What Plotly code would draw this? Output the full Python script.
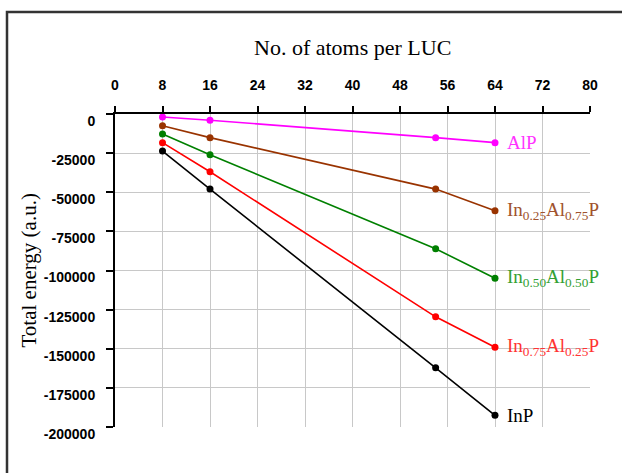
import plotly.graph_objects as go

atoms = [8, 16, 54, 64]
series_names = ["AlP", "In0.25Al0.75P", "In0.50Al0.50P", "In0.75Al0.25P", "InP"]
series_labels = ["AlP",
                 "In<sub>0.25</sub>Al<sub>0.75</sub>P",
                 "In<sub>0.50</sub>Al<sub>0.50</sub>P",
                 "In<sub>0.75</sub>Al<sub>0.25</sub>P",
                 "InP"]
alp = [-1900, -4000, -15100, -18300]
in25 = [-7500, -15100, -48000, -61800]
in50 = [-12800, -26000, -86100, -105000]
in75 = [-18300, -36900, -129600, -149000]
inp = [-23700, -48000, -162200, -192500]
values = [alp, in25, in50, in75, inp]

line_colors = ["#ff00ff", "#993300", "#008000", "#ff0000", "#000000"]
text_colors = ["#ff33ff", "#a0522d", "#33a033", "#ff3333", "#000000"]

x_ticks = [0, 8, 16, 24, 32, 40, 48, 56, 64, 72, 80]
y_ticks = [0, -25000, -50000, -75000, -100000, -125000, -150000, -175000, -200000]

fig = go.Figure()
for name, vals, lc in zip(series_names, values, line_colors):
    fig.add_trace(go.Scatter(x=atoms, y=vals, mode="lines+markers", name=name,
                             line=dict(color=lc, width=1.6),
                             marker=dict(color=lc, size=7), showlegend=False))

for lab, vals, tc in zip(series_labels, values, text_colors):
    fig.add_annotation(x=atoms[-1], y=vals[-1], xref="x", yref="y", text=lab,
                       showarrow=False, xanchor="left", yanchor="middle", xshift=10,
                       font=dict(family="Liberation Serif, Times New Roman, serif", size=19, color=tc))

fig.add_annotation(x=0.499, y=(427 - 48) / 313, xref="paper", yref="paper",
                   text="No. of atoms per LUC", showarrow=False,
                   xanchor="center", yanchor="middle",
                   font=dict(family="Liberation Serif, Times New Roman, serif", size=22, color="#000"))
fig.add_annotation(x=(28 - 115) / 475, y=0.5, xref="paper", yref="paper",
                   text="Total energy (a.u.)", showarrow=False, textangle=-90,
                   xanchor="center", yanchor="middle",
                   font=dict(family="Liberation Serif, Times New Roman, serif", size=21, color="#000"))

fig.add_shape(type="path", xref="paper", yref="paper",
              path="M 1.3,{t} L {l},{t} L {l},-0.3".format(t=(427 - 12) / 313, l=(7 - 115) / 475),
              line=dict(color="#333333", width=2.5))

tickfont = dict(family="Liberation Sans, Arial, sans-serif", size=14, color="#000", weight="bold")
fig.update_xaxes(range=[0, 80], side="top", tickvals=x_ticks, ticktext=[str(v) for v in x_ticks],
                 showline=True, linecolor="#000", linewidth=2, ticks="outside", ticklen=6,
                 tickwidth=2, tickcolor="#000", showgrid=True, gridcolor="#c8c8c8", gridwidth=1,
                 zeroline=False, tickfont=tickfont, ticklabelstandoff=10, automargin=False)
fig.update_yaxes(range=[-200000, 0], tickvals=y_ticks, ticktext=[str(v) for v in y_ticks],
                 showline=True, linecolor="#000", linewidth=2, ticks="outside", ticklen=7,
                 tickwidth=2, tickcolor="#000", showgrid=True, gridcolor="#c8c8c8", gridwidth=1,
                 zeroline=False, tickfont=tickfont, ticklabelshift=7, ticklabelstandoff=8,
                 automargin=False)

fig.update_layout(width=622, height=473, margin=dict(l=115, r=32, t=114, b=46, autoexpand=False),
                  paper_bgcolor="white", plot_bgcolor="white")
fig.write_html("out.html", config={"displayModeBar": False},
               post_script="document.body.style.margin='0px';")
